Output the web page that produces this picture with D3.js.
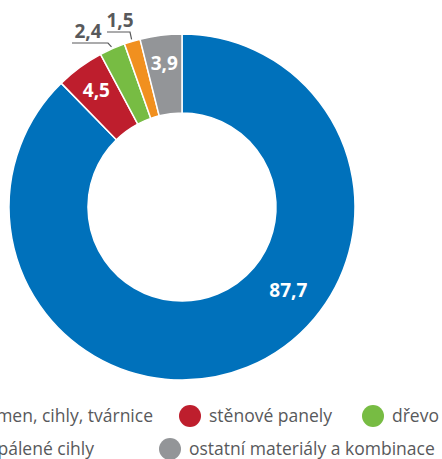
<!DOCTYPE html>
<html>
<head>
<meta charset="utf-8">
<script src="https://cdn.jsdelivr.net/npm/d3@7"></script>
<style>
  body { margin: 0; background: #fff; }
  svg { display: block; font-family: 'Open Sans', sans-serif; }
  .lbl { font-weight: bold; font-size: 19px; }
  .leg { font-size: 17.5px; fill: #58595b; }
</style>
</head>
<body>
<div id="canvas"></div>
<script>
// data
var categories = ['kámen, cihly, tvárnice', 'stěnové panely', 'dřevo', 'nepálené cihly', 'ostatní materiály a kombinace'];
var values = [87.7, 4.5, 2.4, 1.5, 3.9];
var labels = ['87,7', '4,5', '2,4', '1,5', '3,9'];
var colors = ['#0071bb', '#be1e2d', '#77bc43', '#f1901f', '#939598'];

var w = 442, h = 459,
    cx = 182, cy = 207,
    R = 173, r = 94;

var svg = d3.select('#canvas')
  .append('svg')
  .attr('width', w)
  .attr('height', h);

var plot = svg.append('g')
  .attr('transform', 'translate(' + cx + ',' + cy + ')');

var pie = d3.pie().sort(null).value(function(d){ return d; });
var arcs = pie(values);

var arc = d3.arc().innerRadius(r).outerRadius(R);

plot.selectAll('.slice')
  .data(arcs)
  .enter()
  .append('path')
  .attr('class', 'slice')
  .attr('d', arc)
  .attr('fill', function(d, i){ return colors[i]; })
  .attr('stroke', '#fff')
  .attr('stroke-width', 1.5);

// labels inside the ring: slice index, radius, angle (null = slice middle)
var inside = [
  {i: 0, rr: 135, ang: 2.235},
  {i: 1, rr: 145, ang: null},
  {i: 4, rr: 145, ang: null}
];

inside.forEach(function(o){
  var a = arcs[o.i];
  var mid = o.ang != null ? o.ang : (a.startAngle + a.endAngle) / 2;
  plot.append('text')
    .attr('class', 'lbl')
    .attr('x', o.rr * Math.sin(mid))
    .attr('y', -o.rr * Math.cos(mid))
    .attr('dy', '0.35em')
    .attr('text-anchor', 'middle')
    .attr('fill', '#fff')
    .text(labels[o.i]);
});

// outside labels with leader lines
var outside = [
  {i: 2, tx: 88, ty: 31, x0: 72, x1: 108, ly: 43},
  {i: 3, tx: 120, ty: 20, x0: 107, x1: 130, ly: 32}
];

outside.forEach(function(o){
  var a = arcs[o.i];
  var mid = (a.startAngle + a.endAngle) / 2;
  var ex = cx + (R + 2) * Math.sin(mid),
      ey = cy - (R + 2) * Math.cos(mid);
  svg.append('path')
    .attr('d', 'M' + o.x0 + ',' + o.ly + 'L' + o.x1 + ',' + o.ly + 'L' + ex + ',' + ey)
    .attr('fill', 'none')
    .attr('stroke', '#58595b')
    .attr('stroke-width', 1.2);
  svg.append('text')
    .attr('class', 'lbl')
    .attr('x', o.tx)
    .attr('y', o.ty)
    .attr('dy', '0.35em')
    .attr('text-anchor', 'middle')
    .attr('fill', '#58595b')
    .text(labels[o.i]);
});

// legend (cropped on the left like the original)
var legendPos = [
  {x: -20, y: 416, anchor: 'end', tx: 153},
  {x: 190, y: 416},
  {x: 373, y: 416},
  {x: -40, y: 449, anchor: 'end', tx: 94},
  {x: 170, y: 449}
];

var leg = svg.selectAll('.legItem')
  .data(categories)
  .enter()
  .append('g')
  .attr('class', 'legItem');

leg.append('text')
  .attr('class', 'leg')
  .attr('x', function(d, i){ var p = legendPos[i]; return p.anchor ? p.tx : p.x + 19; })
  .attr('y', function(d, i){ return legendPos[i].y; })
  .attr('dy', '0.35em')
  .attr('text-anchor', function(d, i){ return legendPos[i].anchor || 'start'; })
  .text(function(d){ return d; })
  .each(function(d, i){
    var p = legendPos[i];
    if (p.anchor) {
      var bw = this.getComputedTextLength();
      p.x = p.tx - bw - 19;
    }
  });

leg.append('circle')
  .attr('cx', function(d, i){ return legendPos[i].x; })
  .attr('cy', function(d, i){ return legendPos[i].y; })
  .attr('r', 11)
  .attr('fill', function(d, i){ return colors[i]; });
</script>
</body>
</html>
